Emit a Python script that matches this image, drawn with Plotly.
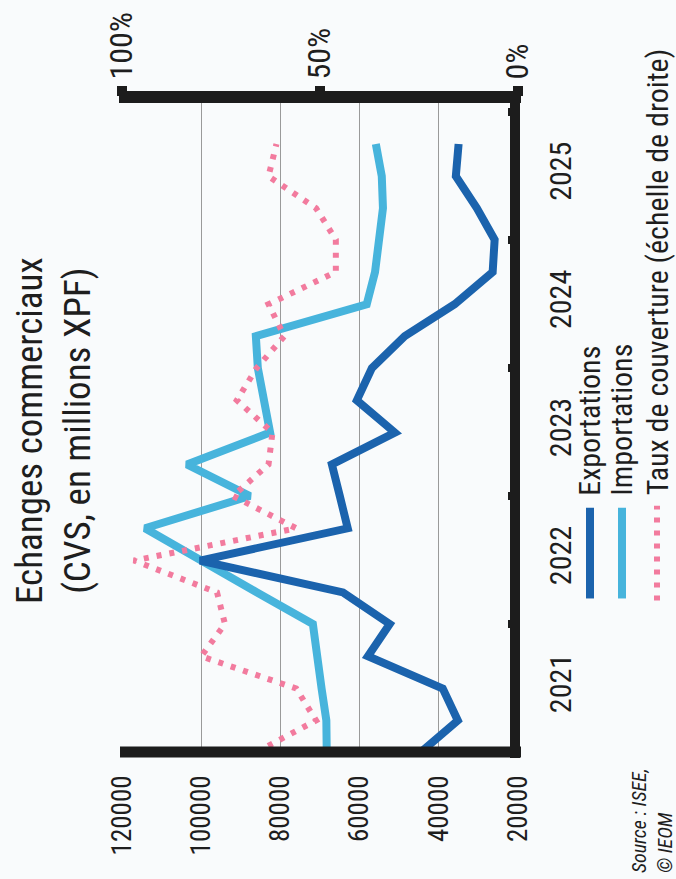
import plotly.graph_objects as go

# ---- data (quarterly) ----
dates = ["2021-01-01", "2021-04-01", "2021-07-01", "2021-10-01",
         "2022-01-01", "2022-04-01", "2022-07-01", "2022-10-01",
         "2023-01-01", "2023-04-01", "2023-07-01", "2023-10-01",
         "2024-01-01", "2024-04-01", "2024-07-01", "2024-10-01",
         "2025-01-01", "2025-04-01", "2025-07-01", "2025-10-01"]
exportations = [44500, 35200, 39000, 57900, 52400, 64200, 100300, 63000, 65000, 67000,
                51100, 60700, 56900, 48600, 36000, 26400, 25900, 30400, 35700, 35000]
importations = [68300, 68400, 69600, 70500, 71800, 85900, 100300, 114200, 87700, 103600,
                82600, 83900, 85700, 86200, 58200, 56100, 54900, 54100, 54400, 55900]
taux_couverture = [66, 51, 56, 80, 74, 76, 97, 56, 72, 63, 62, 71, 66, 59, 63, 46, 46, 51, 63, 61]

value_ticks = [120000, 100000, 80000, 60000, 40000, 20000]
value_labels = ["120000", "100000", "80000", "60000", "40000", "20000"]
pct_ticks = [100, 50, 0]
pct_labels = ["100%", "50%", "0%"]

title_text = "Echanges commerciaux<br>(CVS, en millions XPF)"
legend_names = ["Exportations", "Importations", "Taux de couverture (échelle de droite)"]
source_text = "<i>Source : ISEE,<br>© IEOM</i>"

# ---- style ----
C_EXP = "#1b63ad"
C_IMP = "#47b4dc"
C_TAUX = "#f27b9e"
C_TXT = "#1e1e1e"
C_BORDER = "#1c1c1c"
BG = "#f9fbfc"
FONT = "Liberation Sans Narrow, Roboto Condensed, DejaVu Sans Condensed, Arial Narrow, sans-serif"

W, H = 676, 879
L, R, T, B = 122, 158, 95, 127
PW, PH = W - L - R, H - T - B


def px(xpix):
    return (xpix - L) / PW


def py(ypix):
    return (H - B - ypix) / PH


fig = go.Figure()
fig.add_trace(go.Scatter(x=importations, y=dates, mode="lines", name=legend_names[1],
                         line=dict(color=C_IMP, width=8), showlegend=False))
fig.add_trace(go.Scatter(x=exportations, y=dates, mode="lines", name=legend_names[0],
                         line=dict(color=C_EXP, width=8), showlegend=False))
fig.add_trace(go.Scatter(x=taux_couverture, y=dates, mode="lines", name=legend_names[2],
                         xaxis="x2", line=dict(color=C_TAUX, width=6, dash="5px,8px"),
                         showlegend=False))

shapes = [
    # frame (thick black axis lines)
    dict(type="line", xref="paper", yref="paper", x0=px(119), x1=px(521), y0=py(95), y1=py(95),
         line=dict(color=C_BORDER, width=12), layer="above"),
    dict(type="line", xref="paper", yref="paper", x0=px(120), x1=px(521), y0=py(752), y1=py(752),
         line=dict(color=C_BORDER, width=11), layer="above"),
    dict(type="line", xref="paper", yref="paper", x0=px(515), x1=px(515), y0=py(758), y1=py(89),
         line=dict(color=C_BORDER, width=10), layer="above"),
    # legend samples
    dict(type="line", xref="paper", yref="paper", x0=px(590), x1=px(590), y0=py(598), y1=py(507),
         line=dict(color=C_EXP, width=8)),
    dict(type="line", xref="paper", yref="paper", x0=px(622), x1=px(622), y0=py(598), y1=py(507),
         line=dict(color=C_IMP, width=8)),
    dict(type="line", xref="paper", yref="paper", x0=px(657), x1=px(657), y0=py(600), y1=py(505),
         line=dict(color=C_TAUX, width=6, dash="5px,8px")),
]

annotations = [
    dict(text=title_text, xref="paper", yref="paper", x=px(54), y=py(430),
         xanchor="center", yanchor="middle", textangle=-90, showarrow=False,
         font=dict(family=FONT, size=37, color=C_TXT), align="center"),
    dict(text=legend_names[0], xref="paper", yref="paper", x=px(590), y=py(497),
         xanchor="center", yanchor="bottom", textangle=-90, showarrow=False,
         font=dict(family=FONT, size=30, color=C_TXT)),
    dict(text=legend_names[1], xref="paper", yref="paper", x=px(622), y=py(497),
         xanchor="center", yanchor="bottom", textangle=-90, showarrow=False,
         font=dict(family=FONT, size=30, color=C_TXT)),
    dict(text=legend_names[2], xref="paper", yref="paper", x=px(657), y=py(497),
         xanchor="center", yanchor="bottom", textangle=-90, showarrow=False,
         font=dict(family=FONT, size=30, color=C_TXT)),
    dict(text=source_text, xref="paper", yref="paper", x=px(652), y=py(876),
         xanchor="center", yanchor="bottom", textangle=-90, showarrow=False, align="left",
         font=dict(family=FONT, size=20, color=C_TXT)),
]

fig.update_layout(
    width=W, height=H,
    margin=dict(l=L, r=R, t=T, b=B, pad=0),
    paper_bgcolor=BG, plot_bgcolor=BG,
    font=dict(family=FONT, color=C_TXT),
    showlegend=False,
    shapes=shapes,
    annotations=annotations,
    xaxis=dict(range=[120000, 20000], tickmode="array", tickvals=value_ticks, ticktext=value_labels,
               tickangle=-90, showgrid=True, gridcolor="#9a9a9a", gridwidth=1, zeroline=False,
               showline=False, ticks="", ticklabelstandoff=17,
               tickfont=dict(family=FONT, size=27, color=C_TXT)),
    xaxis2=dict(overlaying="x", side="top", range=[100, 0], tickmode="array", tickvals=pct_ticks,
                ticktext=pct_labels, tickangle=-90, showgrid=False, zeroline=False, showline=False,
                ticks="outside", ticklen=10, tickwidth=10, tickcolor=C_BORDER,
                tickfont=dict(family=FONT, size=32, color=C_TXT)),
    yaxis=dict(type="date", range=["2021-01-01", "2026-02-12"], side="right",
               dtick="M12", tick0="2021-01-01", ticklabelmode="period", tickformat="%Y",
               tickangle=-90, ticks="inside", ticklen=10, tickwidth=8, tickcolor=C_BORDER,
               showgrid=False, zeroline=False, showline=False, ticklabelstandoff=22,
               tickfont=dict(family=FONT, size=30, color=C_TXT)),
)

fig.write_html("out.html", config={"displayModeBar": False},
               post_script="document.body.style.margin='0px';document.body.style.padding='0px';")
